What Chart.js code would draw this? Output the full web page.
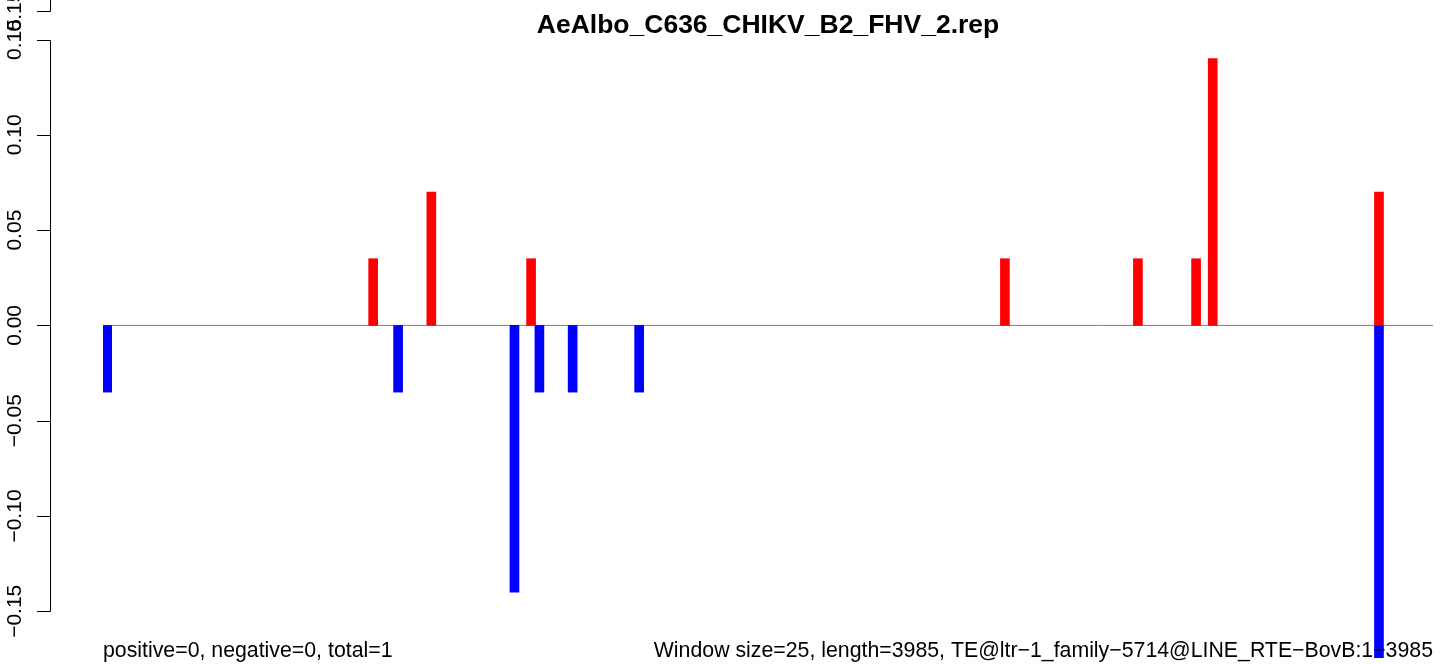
<!DOCTYPE html>
<html>
<head>
<meta charset="utf-8">
<script src="https://cdn.jsdelivr.net/npm/chart.js@4/dist/chart.umd.min.js"></script>
<style>
  html, body { margin: 0; padding: 0; background: #fff; }
  #wrap { width: 1452px; height: 664px; }
</style>
</head>
<body>
<div id="wrap"><canvas id="repChart" width="1452" height="664"></canvas></div>
<script>
// window index (25 bp windows) and values
var posWindows = [32, 39, 51, 108, 124, 131, 133, 153];
var posValues = [0.035, 0.07, 0.035, 0.035, 0.035, 0.035, 0.14, 0.07];
var negWindows = [0, 35, 49, 52, 56, 64, 153];
var negValues = [-0.035, -0.035, -0.14, -0.035, -0.035, -0.035, -0.175];
var windowCount = 160;
var yTicks = [-0.15, -0.10, -0.05, 0.00, 0.05, 0.10, 0.15];
var yTickLabels = ["\u22120.15", "\u22120.10", "\u22120.05", "0.00", "0.05", "0.10", "0.15"];
var extraTick = 0.165, extraTickLabel = "0.15";
var title = "AeAlbo_C636_CHIKV_B2_FHV_2.rep";
var leftNote = "positive=0, negative=0, total=1";
var rightNote = "Window size=25, length=3985, TE@ltr\u22121_family\u22125714@LINE_RTE\u2212BovB:1\u22123985";

function toPoints(win, vals) {
  var out = [];
  for (var i = 0; i < win.length; i++) {
    out.push({ x: win[i] + 0.5, y: vals[i] });
  }
  return out;
}

var FONT = "'Liberation Sans', Arial, Helvetica, sans-serif";

var decor = {
  id: "decor",
  afterDraw: function(chart) {
    var ctx = chart.ctx;
    var y = chart.scales.y;
    var area = chart.chartArea;
    var axX = 50.5;
    ctx.save();
    ctx.strokeStyle = "#000";
    ctx.lineWidth = 1;
    // main axis
    ctx.beginPath();
    ctx.moveTo(axX, Math.round(y.getPixelForValue(yTicks[0])) + 0.5);
    ctx.lineTo(axX, Math.round(y.getPixelForValue(yTicks[yTicks.length - 1])) + 0.5);
    for (var i = 0; i < yTicks.length; i++) {
      var py = Math.round(y.getPixelForValue(yTicks[i])) + 0.5;
      ctx.moveTo(37, py);
      ctx.lineTo(axX, py);
    }
    // second overlapping axis piece at the very top
    var ey = Math.round(y.getPixelForValue(extraTick)) + 0.5;
    ctx.moveTo(axX, ey);
    ctx.lineTo(axX, 0);
    ctx.moveTo(37, ey);
    ctx.lineTo(axX, ey);
    ctx.stroke();

    ctx.fillStyle = "#000";
    ctx.font = "21px " + FONT;
    ctx.textAlign = "center";
    ctx.textBaseline = "alphabetic";
    var labs = yTicks.map(function(v, k) { return [v, yTickLabels[k]]; });
    labs.push([extraTick, extraTickLabel]);
    labs.forEach(function(l) {
      ctx.save();
      ctx.translate(21, y.getPixelForValue(l[0]));
      ctx.rotate(-Math.PI / 2);
      ctx.fillText(l[1], 0, 0);
      ctx.restore();
    });

    var cx = (area.left + area.right) / 2;
    ctx.font = "bold 26.5px " + FONT;
    ctx.fillText(title, cx, 33);

    ctx.font = "21.3px " + FONT;
    ctx.textAlign = "left";
    ctx.fillText(leftNote, area.left, 657);
    ctx.textAlign = "right";
    ctx.fillText(rightNote, area.right, 657);
    ctx.restore();
  }
};

var chart = new Chart(document.getElementById("repChart"), {
  type: "bar",
  data: {
    datasets: [{
      type: "line",
      data: [{ x: 0, y: 0 }, { x: windowCount, y: 0 }],
      borderColor: "#7f7f7f",
      borderWidth: 1,
      pointRadius: 0,
      order: 3
    }, {
      label: "positive",
      data: toPoints(posWindows, posValues),
      backgroundColor: "#ff0000",
      barThickness: 9,
      grouped: false,
      order: 1
    }, {
      label: "negative",
      data: toPoints(negWindows, negValues),
      backgroundColor: "#0000ff",
      barThickness: 9,
      grouped: false,
      order: 2
    }]
  },
  options: {
    responsive: false,
    animation: false,
    layout: { padding: { left: 103, right: 19, top: 10, bottom: 6 } },
    plugins: { legend: { display: false }, tooltip: { enabled: false }, title: { display: false } },
    scales: {
      x: { type: "linear", min: 0, max: windowCount, offset: false, display: false },
      y: { min: -0.1745, max: 0.1655, display: false }
    }
  },
  plugins: [decor]
});
</script>
</body>
</html>
